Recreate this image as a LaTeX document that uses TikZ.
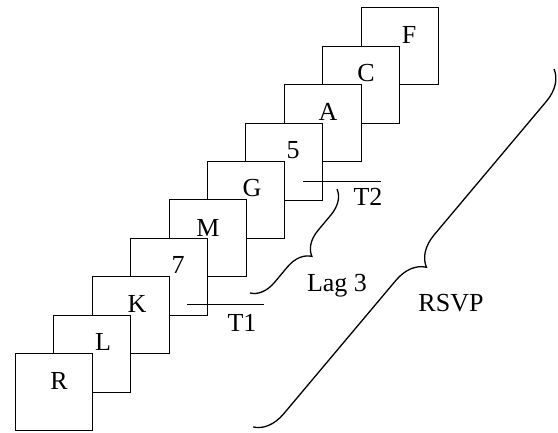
\documentclass[tikz,border=0pt]{standalone}
\usepackage{fontspec}
\setmainfont{Liberation Serif}
\usetikzlibrary{decorations.pathreplacing}
\begin{document}
\begin{tikzpicture}[x=1pt,y=-1pt,
  sq/.style={draw,fill=white,line width=1.3pt,minimum size=77pt,inner sep=0pt},
  lbl/.style={font=\fontsize{26}{30}\selectfont,inner sep=0pt,anchor=base},
  tickline/.style={line width=1.3pt},
  curly/.style={decorate,decoration={brace,amplitude=#1},line width=1.3pt}]
\useasboundingbox (0,0) rectangle (558,433);
% squares, back to front
\node[sq] (sqF) at (400,46) {};  \node[lbl] (lF) at (409,44) {F};
\node[sq] (sqC) at (361,85) {};  \node[lbl] (lC) at (366,82) {C};
\node[sq] (sqA) at (323,123) {}; \node[lbl] (lA) at (328,121) {A};
\node[sq] (sq5) at (284,162) {}; \node[lbl] (l5) at (293,159) {5};
\node[sq] (sqG) at (246,200) {}; \node[lbl] (lG) at (252,197) {G};
\node[sq] (sqM) at (208,238) {}; \node[lbl] (lM) at (208,237) {M};
\node[sq] (sq7) at (169,277) {}; \node[lbl] (l7) at (178,274) {7};
\node[sq] (sqK) at (131,315) {}; \node[lbl] (lK) at (137,313) {K};
\node[sq] (sqL) at (92,354) {};  \node[lbl] (lL) at (103,351) {L};
\node[sq] (sqR) at (54,392) {};  \node[lbl] (lR) at (59,389) {R};
% T1 / T2 marks
\coordinate (t1a) at (187,304.5); \coordinate (t1b) at (264,304.5);
\coordinate (t2a) at (303,181.5); \coordinate (t2b) at (381,181.5);
\draw[tickline] (t1a) -- (t1b);
\draw[tickline] (t2a) -- (t2b);
\node[lbl] (T1) at (242,332) {T1};
\node[lbl] (T2) at (368,206) {T2};
% braces
\coordinate (lagA) at (337,189); \coordinate (lagB) at (250,293);
\draw[curly=24pt] (lagA) -- (lagB);
\node[lbl] (lag) at (337,292) {Lag 3};
\coordinate (rsA) at (554,69); \coordinate (rsB) at (253,427);
\draw[curly=30pt] (rsA) -- (rsB);
\node[lbl] (rsvp) at (451,312) {RSVP};
\end{tikzpicture}
\end{document}
